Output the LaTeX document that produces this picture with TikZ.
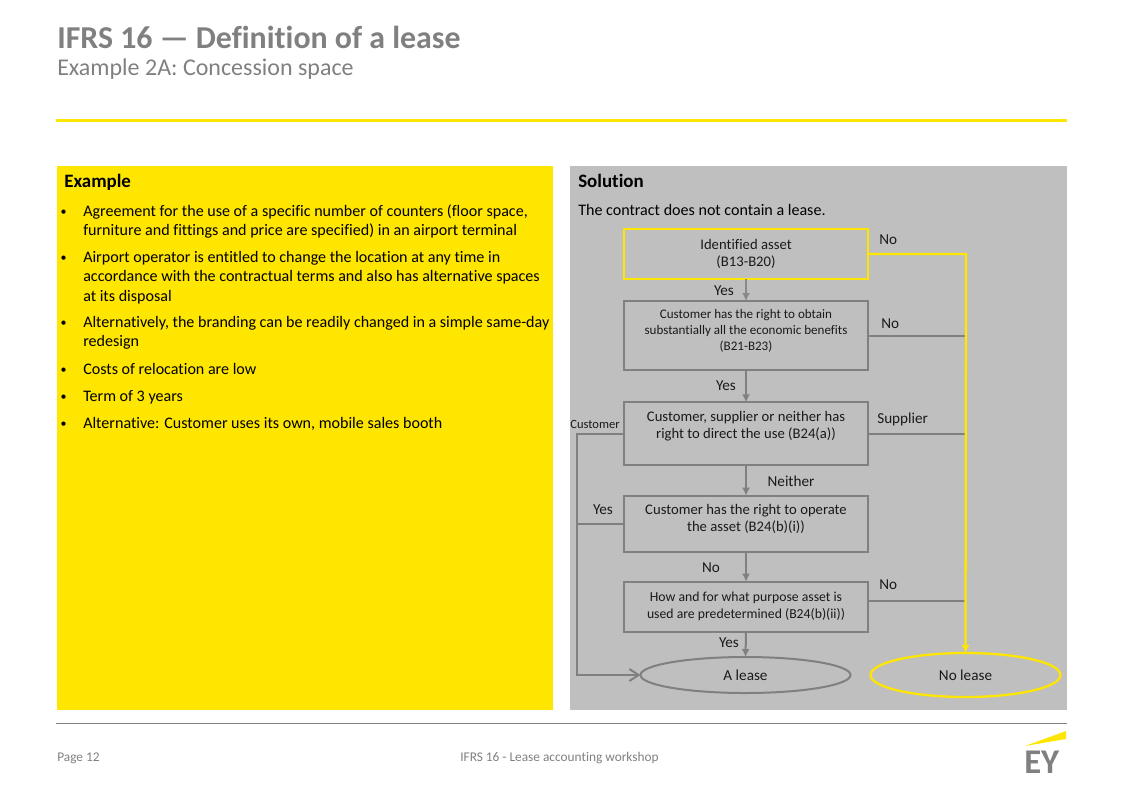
\documentclass[tikz,border=0pt]{standalone}
\usepackage{fontspec}
\setmainfont[Ligatures=NoCommon]{Carlito}
\usepackage{xcolor}
\usetikzlibrary{arrows.meta,calc,positioning,shapes.geometric}
\definecolor{eyyellow}{HTML}{FFE600}
\definecolor{eygrey}{HTML}{808080}
\definecolor{panelgrey}{HTML}{BFBFBF}
\definecolor{inkgrey}{HTML}{1A1A1A}
\newcommand{\fsize}[2]{\fontsize{#1}{#2}\selectfont}
\newcommand{\itembullet}{\llap{\raisebox{0.6pt}{\fsize{9}{9}\textbullet}\hspace{12.5pt}}}
\tikzset{
  panel/.style={inner sep=0, outer sep=0, anchor=north west},
  flowbox/.style={draw=eygrey, line width=1.5pt, minimum width=183pt, inner sep=0, outer sep=0, align=center, text=inkgrey},
  flowend/.style={ellipse, draw=eygrey, line width=1.5pt, inner sep=0, outer sep=0, text=inkgrey, font=\fsize{11.4}{13}},
  tag/.style={text=inkgrey, inner sep=0, font=\fsize{11.4}{13}},
  bodytext/.style={anchor=north west, inner sep=0, align=left, text=black, font=\fsize{12.05}{14.6}},
  link/.style={draw=eygrey, line width=1.5pt},
  linkarrow/.style={link, -{Latex[length=6pt,width=6pt]}},
  hotlink/.style={draw=eyyellow, line width=1.7pt},
  footer/.style={text=eygrey, inner sep=0, font=\fsize{10}{11}}
}
\begin{document}
\begin{tikzpicture}[x=0.75pt, y=-0.75pt]
  \useasboundingbox (0,0) rectangle (1123,794);
  \node [anchor=north west, inner sep=0, text=eygrey, font=\bfseries\fsize{23.9}{26}] at (57,26) (title) {IFRS 16 — Definition of a lease};
  \node [anchor=north west, inner sep=0, text=eygrey, font=\fsize{18}{20}] at (57,58.5) (subtitle) {Example 2A: Concession space};
  \draw [eyyellow, line width=2.2pt] (56,120.5) coordinate (ruleL) -- (1067,120.5) coordinate (ruleR);
  \node [panel, fill=eyyellow, minimum width=372pt, minimum height=408pt] at (57,166) (examplepanel) {};
  \node [panel, fill=panelgrey, minimum width=372.75pt, minimum height=408pt] at (570,166) (solutionpanel) {};
  \node [anchor=north west, inner sep=0, font=\bfseries\fsize{14.2}{16}] at (64,174) (examplehead) {Example};
  \node [anchor=north west, inner sep=0, font=\bfseries\fsize{14.2}{16}] at (578,174) (solutionhead) {Solution};
  \node [bodytext] at (83,204) (item1) {\itembullet Agreement for the use of a specific number of counters (floor space,\\furniture and fittings and price are specified) in an airport terminal};
  \node [bodytext] at (83,251) (item2) {\itembullet Airport operator is entitled to change the location at any time in\\accordance with the contractual terms and also has alternative spaces\\at its disposal};
  \node [bodytext] at (83,316) (item3) {\itembullet Alternatively, the branding can be readily changed in a simple same-day\\redesign};
  \node [bodytext] at (83,363) (item4) {\itembullet Costs of relocation are low};
  \node [bodytext] at (83,390) (item5) {\itembullet Term of 3 years};
  \node [bodytext] at (83,417) (item6) {\itembullet Alternative: Customer uses its own, mobile sales booth};
  \node [bodytext] at (578,204) (verdict) {The contract does not contain a lease.};
  \node [flowbox, draw=eyyellow, line width=1.7pt, minimum height=37.5pt, font=\fsize{11}{12.8}] at (746,254) (asset) {Identified asset\\(B13-B20)};
  \node [flowbox, minimum height=52pt, below=16.5pt of asset, font=\fsize{9.8}{12}] (benefits) {Customer has the right to obtain\\substantially all the economic benefits\\(B21-B23)\\[-3pt]\mbox{}};
  \node [flowbox, minimum height=47pt, below=24pt of benefits, font=\fsize{11}{13.2}] (direct) {Customer, supplier or neither has\\right to direct the use (B24(a))\\\mbox{}};
  \node [flowbox, minimum height=42pt, below=23pt of direct, font=\fsize{11}{13}] (operate) {Customer has the right to operate\\the asset (B24(b)(i))\\[-4.5pt]\mbox{}};
  \node [flowbox, minimum height=37.5pt, below=22.5pt of operate, font=\fsize{10.3}{12.8}] (purpose) {How and for what purpose asset is\\used are predetermined (B24(b)(ii))};
  \node [flowend, minimum width=157.5pt, minimum height=27pt] at (745.5,675) (lease) {A lease};
  \node [flowend, draw=eyyellow, line width=1.7pt, minimum width=142.5pt, minimum height=33pt] at (965.5,675) (nolease) {No lease};
  \coordinate (spinetop) at (966,254);
  \coordinate (spineB) at (966,336);
  \coordinate (spineD) at (966,434);
  \coordinate (spineP) at (966,601);
  \coordinate (railD) at (577,434);
  \coordinate (railO) at (577,524);
  \coordinate (railL) at (577,675);
  \draw [linkarrow, draw=eygrey!85!panelgrey] (asset) -- (benefits);
  \draw [linkarrow] (benefits) -- (direct);
  \draw [linkarrow] (direct) -- (operate);
  \draw [linkarrow] (operate) -- (purpose);
  \draw [linkarrow] (purpose.south) -- (lease.north);
  \draw [link] (benefits.east |- spineB) -- (spineB);
  \draw [link] (direct.east |- spineD) -- (spineD);
  \draw [link] (purpose.east |- spineP) -- (spineP);
  \draw [link] (operate.west |- railO) -- (railO);
  \draw [link, ->, >={Straight Barb[length=7pt,width=9pt]}] (direct.west |- railD) -- (railD) -- (railL) -- (lease.west);
  \draw [hotlink, -{Latex[length=6pt,width=6pt]}] (asset.east |- spinetop) -- (spinetop) -- (nolease.north);
  \node [tag, anchor=west] at (879,240) (noA) {No};
  \node [tag] at (724,291) (yesA) {Yes};
  \node [tag, anchor=west] at (881,324) (noB) {No};
  \node [tag] at (726,386) (yesB) {Yes};
  \node [tag, anchor=west] at (877,419) (supplier) {Supplier};
  \node [tag, font=\fsize{9.4}{11}] at (595,424) (customer) {Customer};
  \node [tag] at (791,481) (neither) {Neither};
  \node [tag] at (603,510) (yesO) {Yes};
  \node [tag] at (711,568) (noO) {No};
  \node [tag, anchor=west] at (879,585) (noP) {No};
  \node [tag] at (729,643) (yesP) {Yes};
  \draw [eygrey, line width=0.6pt] (56,723.5) coordinate (baseL) -- (1067,723.5) coordinate (baseR);
  \node [footer, anchor=west] at (57,758) (page) {Page 12};
  \node [footer, anchor=west] at (460,758) (workshop) {IFRS 16 - Lease accounting workshop};
  \fill [eyyellow] (1025,746) -- (1066,731) -- (1066,739) -- cycle;
  \node [anchor=west, inner sep=0, text=eygrey, font=\bfseries\fsize{26}{26}] at (1024,762.5) (logo) {EY};
\end{tikzpicture}
\end{document}
